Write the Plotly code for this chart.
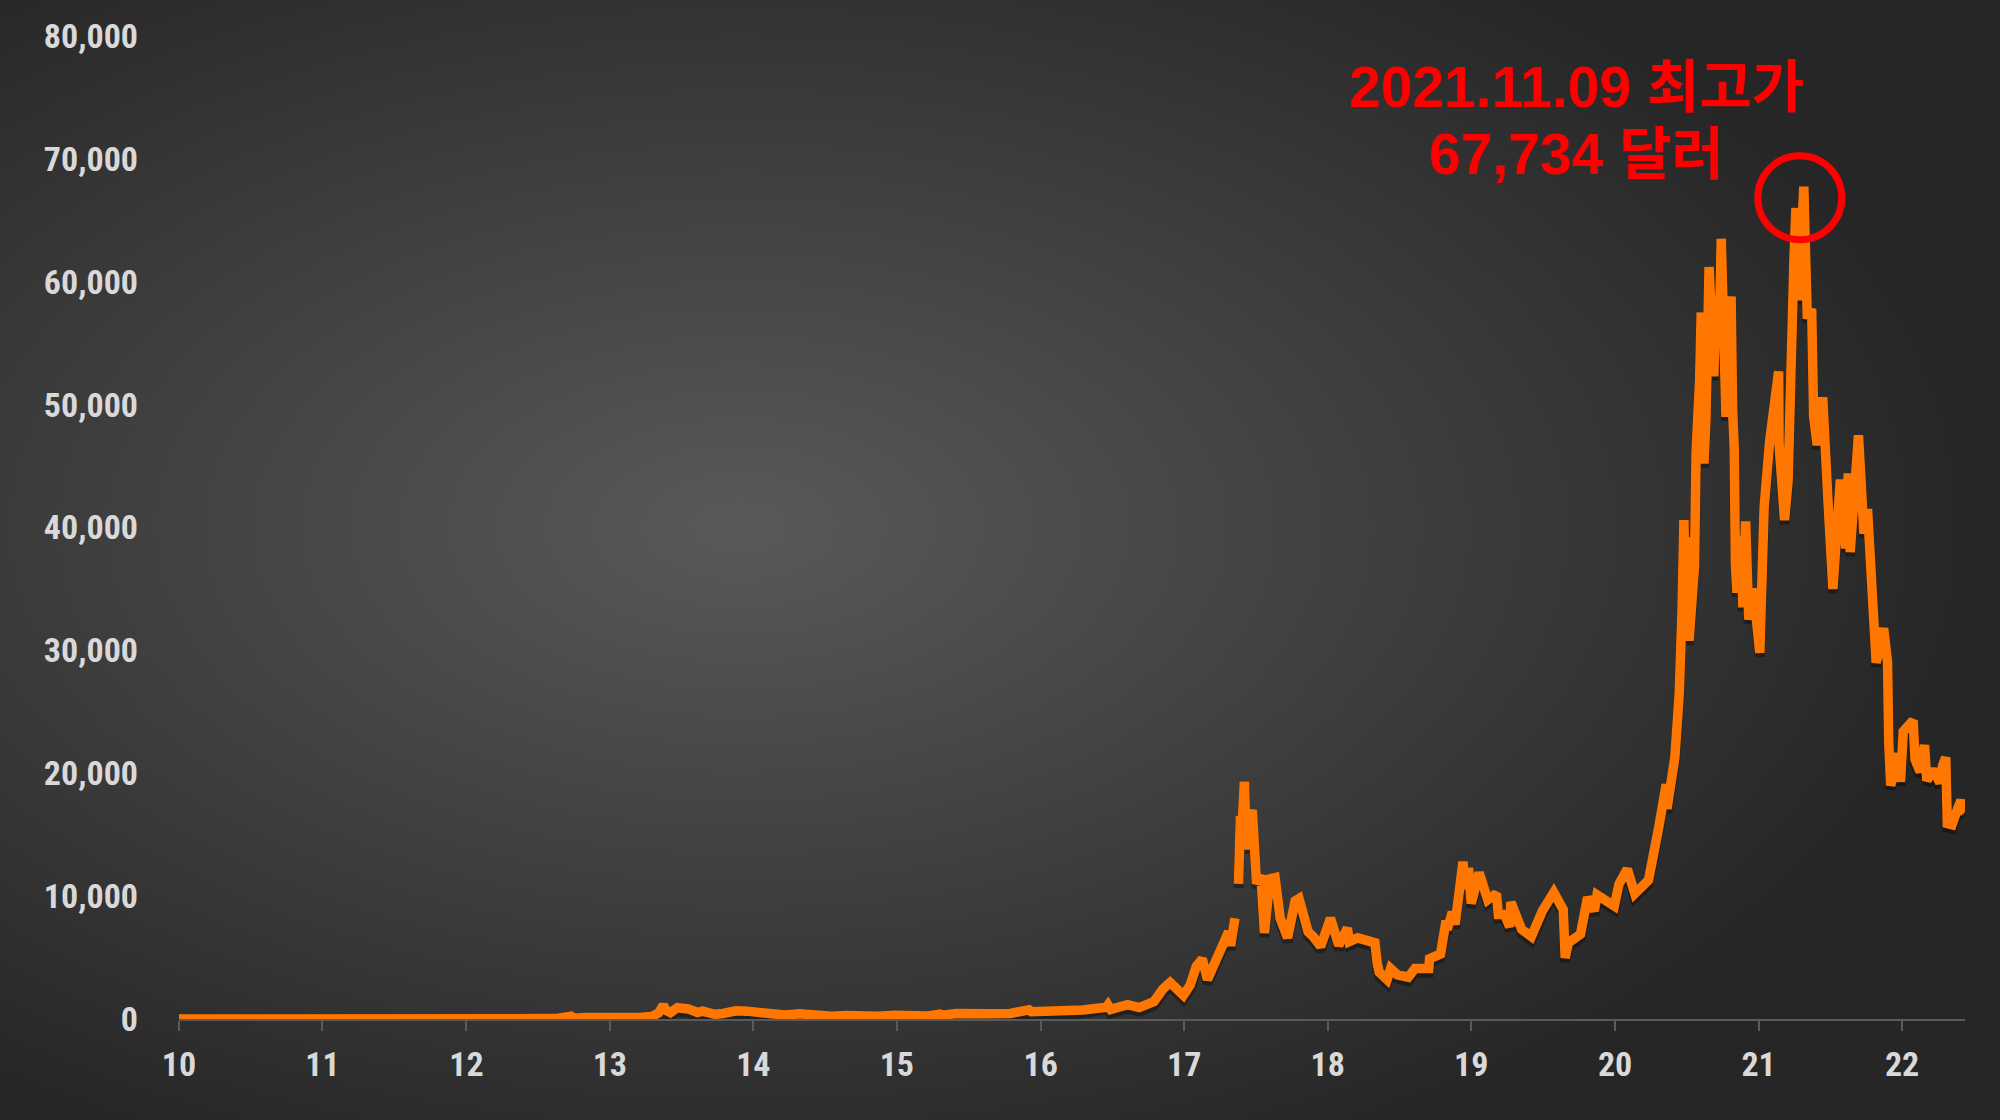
import base64
import plotly.graph_objects as go

# ---------------- data ----------------
dates_2010_2012 = ["2010-07-17", "2010-11-06", "2011-02-09", "2011-06-08", "2011-07-15",
                   "2011-10-20", "2012-01-01", "2012-06-01", "2012-08-16", "2012-10-01"]
prices_2010_2012 = [0.05, 0.39, 1.0, 29.6, 14, 2.3, 5.3, 5.3, 13.5, 12.4]

dates_2013 = ["2013-01-01", "2013-02-28", "2013-04-09", "2013-04-16", "2013-05-15", "2013-07-05",
              "2013-09-01", "2013-10-01", "2013-11-01", "2013-11-18", "2013-11-30", "2013-12-07",
              "2013-12-18"]
prices_2013 = [13.5, 33, 230, 68, 115, 68, 135, 125, 203, 490, 1130, 700, 520]

dates_2014 = ["2014-01-05", "2014-02-01", "2014-02-25", "2014-03-10", "2014-04-10", "2014-05-01",
              "2014-06-03", "2014-07-01", "2014-08-18", "2014-09-20", "2014-10-05", "2014-11-12",
              "2014-12-31"]
prices_2014 = [920, 820, 530, 640, 380, 450, 670, 640, 470, 400, 320, 420, 315]

dates_2015 = ["2015-01-14", "2015-02-01", "2015-03-10", "2015-04-14", "2015-06-01", "2015-07-12",
              "2015-08-24", "2015-10-01", "2015-11-04", "2015-11-11", "2015-12-15"]
prices_2015 = [178, 230, 290, 220, 225, 310, 210, 237, 400, 310, 450]

dates_2016 = ["2016-01-15", "2016-03-01", "2016-05-01", "2016-06-17", "2016-06-23", "2016-08-01",
              "2016-08-02", "2016-10-01", "2016-11-01", "2016-12-31"]
prices_2016 = [375, 430, 450, 750, 590, 606, 545, 615, 730, 960]

dates_2017 = ["2017-01-04", "2017-01-11", "2017-02-23", "2017-03-24", "2017-05-01", "2017-05-24",
              "2017-06-11", "2017-07-15", "2017-08-01", "2017-08-17", "2017-09-01", "2017-09-14",
              "2017-10-01", "2017-10-12", "2017-10-20", "2017-11-07", "2017-11-12", "2017-11-23",
              "2017-11-27", "2017-12-02", "2017-12-07", "2017-12-10", "2017-12-17", "2017-12-22",
              "2017-12-27"]
prices_2017 = [1140, 780, 1170, 930, 1420, 2450, 2970, 1930, 2750, 4300, 4890, 3200,
               4400, 5400, 6000, 7100, 5950, 8200, None, 11000, 16500, 15000, 19300, 13800,
               16000]

dates_2018 = ["2018-01-06", "2018-01-17", "2018-01-28", "2018-02-06", "2018-02-20", "2018-03-05",
              "2018-03-18", "2018-04-06", "2018-04-25", "2018-05-05", "2018-05-28", "2018-06-10",
              "2018-06-29", "2018-07-24", "2018-08-10", "2018-08-14", "2018-09-05", "2018-09-10",
              "2018-10-01", "2018-10-31", "2018-11-14", "2018-11-20", "2018-11-25", "2018-12-15",
              "2018-12-24"]
prices_2018 = [17000, 11000, 11700, 7000, 11400, 11500, 8200, 6600, 9600, 9800, 7100, 6700,
               5900, 8200, 6300, 6000, 7400, 6300, 6600, 6300, 6200, 4500, 3800, 3200,
               4100]

dates_2019 = ["2019-01-10", "2019-02-07", "2019-02-24", "2019-03-31", "2019-04-02", "2019-04-30",
              "2019-05-14", "2019-05-17", "2019-05-30", "2019-06-06", "2019-06-26", "2019-07-02",
              "2019-07-10", "2019-07-17", "2019-08-06", "2019-08-28", "2019-09-19", "2019-09-24",
              "2019-10-10", "2019-10-23", "2019-10-26", "2019-11-22", "2019-12-17"]
prices_2019 = [3600, 3400, 4100, 4100, 4900, 5300, 8000, 7300, 8700, 7700, 12800, 10600,
               12300, 9400, 11900, 9700, 10200, 8500, 8500, 7500, 9500, 7300, 6700]

dates_2020 = ["2020-01-14", "2020-02-12", "2020-03-07", "2020-03-12", "2020-03-20", "2020-04-20",
              "2020-05-08", "2020-05-25", "2020-06-01", "2020-07-15", "2020-07-27", "2020-08-17",
              "2020-09-05", "2020-10-10", "2020-10-21", "2020-11-05", "2020-11-24", "2020-11-26",
              "2020-12-16", "2020-12-27"]
prices_2020 = [8800, 10300, 8900, 4970, 6200, 6900, 9900, 8800, 10100, 9200, 11000, 12200,
               10200, 11300, 12800, 15600, 19100, 17100, 21300, 26400]

dates_2021 = ["2021-01-03", "2021-01-08", "2021-01-11", "2021-01-14", "2021-01-17", "2021-01-21",
              "2021-01-24", "2021-01-29", "2021-02-04", "2021-02-08", "2021-02-14", "2021-02-17",
              "2021-02-21", "2021-02-23", "2021-02-28", "2021-03-05", "2021-03-10", "2021-03-13",
              "2021-03-18", "2021-03-25", "2021-03-31", "2021-04-08", "2021-04-13", "2021-04-17",
              "2021-04-18", "2021-04-25", "2021-05-03", "2021-05-08", "2021-05-12", "2021-05-16",
              "2021-05-19", "2021-05-23", "2021-05-26", "2021-05-29", "2021-06-03", "2021-06-07",
              "2021-06-14", "2021-06-22", "2021-06-30", "2021-07-06", "2021-07-20", "2021-07-26",
              "2021-07-31", "2021-08-14", "2021-08-23", "2021-09-06", "2021-09-07", "2021-09-21",
              "2021-09-30", "2021-10-06", "2021-10-15", "2021-10-20", "2021-10-27", "2021-11-02",
              "2021-11-09", "2021-11-12", "2021-11-18", "2021-11-29", "2021-12-04", "2021-12-13",
              "2021-12-27"]
prices_2021 = [33000, 40600, 35500, 39200, 36000, 30800,
               32300, 34300, 36900, 46200, 48700, 52000,
               57500, 48800, 45200, 48800, 55900, 61200,
               57600, 52300, 58900, 56000, 63500, 60000,
               56200, 49000, 57000, 58800, 49500, 46400,
               37000, 34700, 39300, 35600, 39200, 33500,
               40500, 32500, 35000, 34200, 29800, 37200,
               41600, 47000, 49500, 52700, 46800, 40600,
               43800, 55400, 62000, 66000, 58500, 63000,
               67734, 64000, 57000, 57800, 49000, 46700,
               50600]

dates_2022 = ["2022-01-10", "2022-01-22", "2022-02-10", "2022-02-24", "2022-03-02", "2022-03-07",
              "2022-03-28", "2022-04-11", "2022-04-20", "2022-04-26", "2022-05-09", "2022-05-12",
              "2022-05-31", "2022-06-10", "2022-06-13", "2022-06-18", "2022-07-08", "2022-07-13",
              "2022-07-20", "2022-07-30", "2022-08-14", "2022-08-19", "2022-09-01", "2022-09-12",
              "2022-09-18", "2022-10-05", "2022-10-21", "2022-10-28", "2022-11-05", "2022-11-09",
              "2022-11-21", "2022-12-05", "2022-12-14", "2022-12-20", "2022-12-23"]
prices_2022 = [41800, 35000, 43900, 38300, 44400, 38000,
               47500, 39500, 41500, 38100, 30100, 29000,
               31800, 29000, 22500, 19000, 21600, 19300,
               23400, 23800, 24300, 21100, 20100, 22300,
               19400, 20300, 19200, 20600, 21300, 15900,
               15800, 17100, 17800, 16900, 16800]

dates = (dates_2010_2012 + dates_2013 + dates_2014 + dates_2015 + dates_2016 + dates_2017
         + dates_2018 + dates_2019 + dates_2020 + dates_2021 + dates_2022)
prices = (prices_2010_2012 + prices_2013 + prices_2014 + prices_2015 + prices_2016 + prices_2017
          + prices_2018 + prices_2019 + prices_2020 + prices_2021 + prices_2022)

tick_dates = ["%d-07-17" % y for y in range(2010, 2023)]
tick_labels = ["%02d" % (y % 100) for y in range(2010, 2023)]
y_ticks = [0, 10000, 20000, 30000, 40000, 50000, 60000, 70000, 80000]

peak_date = "2021-11-09"
peak_value = 67734
note_line1 = "2021.11.09 최고가"
note_line2 = "67,734 달러"

# ---------------- styling ----------------
W, H = 2000, 1120
ML, MR, MT, MB = 179, 35, 36, 101
PW, PH = W - ML - MR, H - MT - MB
Y_MAX = 80000
SHADOW_PX = 4

svg = f"""<svg xmlns='http://www.w3.org/2000/svg' width='{W}' height='{H}' viewBox='0 0 {W} {H}' preserveAspectRatio='none'>
<defs><radialGradient id='g' cx='0.37' cy='0.47' r='0.62'>
<stop offset='0' stop-color='#595959'/>
<stop offset='0.55' stop-color='#3d3d3d'/>
<stop offset='1' stop-color='#262626'/>
</radialGradient></defs>
<rect width='{W}' height='{H}' fill='url(#g)'/></svg>"""
bg_src = "data:image/svg+xml;base64," + base64.b64encode(svg.encode()).decode()

tick_font = dict(family="Liberation Sans Narrow, Arial Narrow, Roboto Condensed, Liberation Sans, sans-serif",
                 size=34, color="#D9D9D9", weight="bold")
note_font = dict(family="Liberation Sans, Arial, Noto Sans CJK KR, sans-serif", size=57, color="#FF0000")

fig = go.Figure()

# soft drop shadow (same data, drawn on an overlay axis offset a few pixels)
fig.add_trace(go.Scatter(
    x=dates, y=prices, mode="lines", yaxis="y2",
    line=dict(color="rgba(0,0,0,0.35)", width=10),
    hoverinfo="skip", showlegend=False, connectgaps=False))

fig.add_trace(go.Scatter(
    x=dates, y=prices, mode="lines", yaxis="y3",
    line=dict(color="#FF7700", width=9.5),
    showlegend=False, connectgaps=False))

shift = SHADOW_PX * Y_MAX / PH

fig.update_layout(
    width=W, height=H,
    margin=dict(l=ML, r=MR, t=MT, b=MB, pad=0),
    paper_bgcolor="#2b2b2b",
    plot_bgcolor="rgba(0,0,0,0)",
    showlegend=False,
    xaxis=dict(
        type="date",
        range=[tick_dates[0], "2022-12-24"],
        tickvals=tick_dates, ticktext=tick_labels,
        showgrid=False, zeroline=False,
        showline=True, linecolor="#5a5a5a", linewidth=2,
        ticks="outside", ticklen=10, tickwidth=2, tickcolor="#5a5a5a",
        tickfont=tick_font, ticklabelstandoff=4,
        layer="below traces",
    ),
    yaxis=dict(
        range=[0, Y_MAX],
        tickvals=y_ticks, tickformat=",d",
        showgrid=False, zeroline=False, showline=False,
        ticks="", tickfont=tick_font, ticklabelstandoff=40,
    ),
    yaxis2=dict(overlaying="y", range=[shift, Y_MAX + shift], visible=False),
    yaxis3=dict(overlaying="y", range=[0, Y_MAX], visible=False),
    images=[dict(
        source=bg_src, xref="paper", yref="paper",
        x=-ML / PW, y=1 + MT / PH, sizex=W / PW, sizey=H / PH,
        xanchor="left", yanchor="top", sizing="stretch", layer="below",
    )],
    annotations=[
        dict(text="<b>" + note_line1 + "</b>", xref="paper", yref="paper",
             x=(1576 - ML) / PW, y=1 - (87 - MT) / PH, xanchor="center", yanchor="middle",
             showarrow=False, font=note_font),
        dict(text="<b>" + note_line2 + "</b>", xref="paper", yref="paper",
             x=(1576 - ML) / PW, y=1 - (154 - MT) / PH, xanchor="center", yanchor="middle",
             showarrow=False, font=note_font),
    ],
    shapes=[dict(
        type="circle", xref="x", yref="y",
        xsizemode="pixel", ysizemode="pixel",
        xanchor=peak_date, yanchor=peak_value,
        x0=-46, x1=38, y0=-53, y1=31,
        line=dict(color="#FF0000", width=7), fillcolor="rgba(0,0,0,0)",
    )],
)

fig.write_html("out.html",
               config={"displayModeBar": False},
               post_script="document.body.style.margin='0';document.body.style.background='#262626';")
